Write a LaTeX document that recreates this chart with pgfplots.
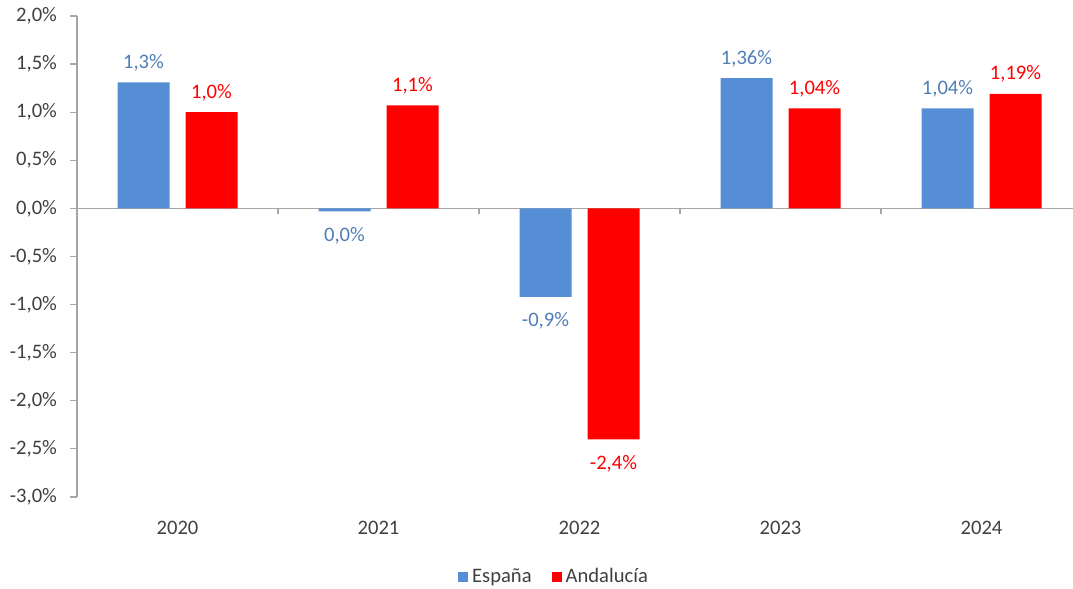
\documentclass[border=0pt]{standalone}
\usepackage{pgfplots}
\pgfplotsset{compat=1.18}
\usepackage{pgfplotstable}
\usepackage{fontspec}
\setmainfont{Carlito}
\definecolor{esp}{HTML}{558ED5}
\definecolor{espl}{HTML}{4F7DB8}
\definecolor{andc}{HTML}{FF0000}
\definecolor{txt}{HTML}{404040}
\definecolor{axc}{HTML}{A6A6A6}

\pgfplotstableread{
x y lab
0 1.31 1,3\%
1 -0.03 0,0\%
2 -0.92 -0,9\%
3 1.355 1,36\%
4 1.04 1,04\%
}\espdata
\pgfplotstableread{
x y lab
0 1.00 1,0\%
1 1.07 1,1\%
2 -2.40 -2,4\%
3 1.04 1,04\%
4 1.19 1,19\%
}\anddata

\begin{document}
\begin{tikzpicture}
\begin{axis}[
  name=ax, at={(0,0)}, anchor=south west,
  scale only axis, width=498pt, height=240.5pt,
  xmin=-0.5, xmax=4.455, ymin=-3, ymax=2,
  ybar=8pt, bar width=26pt,
  axis y line*=left, axis x line*=bottom,
  x axis line style={draw=none},
  y axis line style={axc, line width=0.6pt},
  xtick={0,1,2,3,4}, xticklabels={2020,2021,2022,2023,2024},
  major x tick style={draw=none},
  xticklabel style={yshift=-5pt},
  ytick={-3,-2.5,-2,-1.5,-1,-0.5,0,0.5,1,1.5,2},
  yticklabels={{-3,0\%},{-2,5\%},{-2,0\%},{-1,5\%},{-1,0\%},{-0,5\%},{0,0\%},{0,5\%},{1,0\%},{1,5\%},{2,0\%}},
  yticklabel style={xshift=-3pt},
  tick align=outside,
  major y tick style={axc, line width=0.6pt},
  major tick length=3.5pt,
  tick label style={font=\fontsize{10.3}{12}\selectfont, text=txt},
  clip=false,
  nodes near coords,
  point meta=explicit symbolic,
  visualization depends on={rawy \as \rawy},
  every node near coord/.append style={font=\fontsize{10.3}{12}\selectfont, anchor=base, yshift={(\rawy>0)*22pt-15pt}},
  legend style={draw=none, at={(0.48,-0.166)}, anchor=center, legend columns=2,
    font=\fontsize{10.3}{12}\selectfont, text=txt,
    /tikz/every even column/.append style={column sep=8pt}},
]
\draw[axc, line width=0.6pt] (axis cs:-0.5,0) -- (axis cs:4.455,0);
\pgfplotsinvokeforeach{0.5,1.5,2.5,3.5}{\draw[axc, line width=0.6pt] (axis cs:#1,0) -- ([yshift=-3pt]axis cs:#1,0);}
\addplot[fill=esp, draw=none, every node near coord/.append style={text=espl},
  legend image code/.code={\fill[esp] (0pt,-2.5pt) rectangle (5pt,2.5pt);}]
  table[x=x, y=y, meta=lab] {\espdata};
\addplot[fill=andc, draw=none, every node near coord/.append style={text=andc},
  legend image code/.code={\fill[andc] (0pt,-2.5pt) rectangle (5pt,2.5pt);}]
  table[x=x, y=y, meta=lab] {\anddata};
\legend{España, Andalucía}
\end{axis}
\pgfresetboundingbox
\path[use as bounding box] ([xshift=-38.5pt,yshift=-46pt]ax.south west) rectangle ([yshift=8pt]ax.north east);
\end{tikzpicture}
\end{document}
